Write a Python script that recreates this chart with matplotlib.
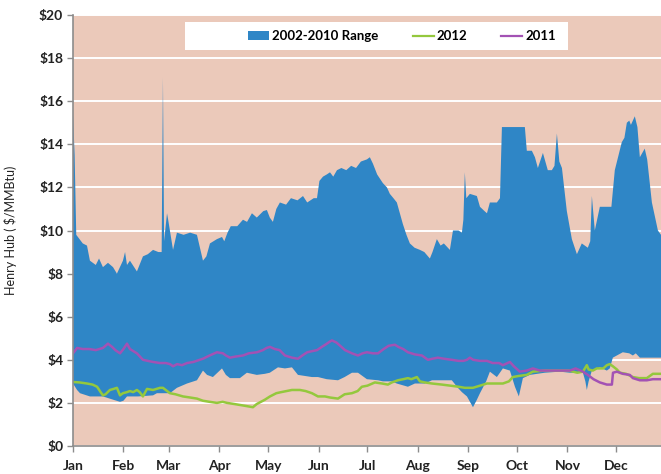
import matplotlib
matplotlib.use("Agg")
import matplotlib.pyplot as plt
from matplotlib.patches import Rectangle, Patch
from matplotlib.lines import Line2D
import numpy as np

plt.rcParams['font.family'] = ['Lato', 'DejaVu Sans']

# ---------------- data (day of year, $/MMBtu) ----------------
month_labels = ["Jan", "Feb", "Mar", "Apr", "May", "Jun", "Jul", "Aug", "Sep", "Oct", "Nov", "Dec"]
month_days = [0, 31, 59, 90, 120, 151, 181, 212, 243, 273, 304, 334]
y_ticks = [0, 2, 4, 6, 8, 10, 12, 14, 16, 18, 20]
y_tick_labels = ["$0", "$2", "$4", "$6", "$8", "$10", "$12", "$14", "$16", "$18", "$20"]

range_upper_days = [0, 1, 2, 3, 6, 8.6, 10.4, 14, 16, 18.4, 21.5, 24.6, 27, 30.7, 32, 33.2, 35, 39.3,
                    43, 46, 49.2, 52.5, 54.5, 55.3, 56.0, 57.8, 58.5, 61.5, 63.9, 68, 72, 76.2, 79.9,
                    82, 84.2, 88.5, 91.6, 93, 95, 97, 101, 104.5, 107, 110, 113, 117, 119.2, 121,
                    122.9, 125, 127.2, 131, 134, 138, 141.4, 144, 146, 148, 150, 151.5, 153.7, 156,
                    158, 160, 162.3, 165, 168, 171, 174, 177, 180.7, 182.5, 184.4, 187, 190.5, 193,
                    194.8, 197, 199.1, 202.8, 205, 207.1, 210, 213.3, 216, 219.4, 221, 223.7, 226,
                    228, 231.7, 233.6, 237, 239.1, 240, 240.9, 241.8, 244, 248.3, 250.2, 253, 254.5,
                    256.3, 260.6, 262.5, 263.7, 277.8, 279, 282.1, 284, 285.8, 288.9, 291.9, 294.4,
                    296, 297.5, 299, 300.6, 303.6, 306.7, 309.8, 312.8, 316.5, 318, 319, 320.8,
                    323.9, 328, 331, 333.1, 337.4, 339, 340.5, 342, 343, 345.4, 347, 348.5, 350,
                    351.5, 353, 355.9, 359.6, 361.5]
range_upper_vals = [15.4, 13.5, 9.8, 9.7, 9.4, 9.3, 8.6, 8.4, 8.7, 8.3, 8.5, 8.3, 8.0, 8.6, 9.0, 8.4,
                    8.6, 8.1, 8.8, 8.9, 9.1, 9.0, 9.0, 17.1, 9.5, 10.8, 10.5, 9.1, 9.9, 9.8, 9.9,
                    9.8, 8.6, 8.8, 9.4, 9.6, 9.7, 9.5, 9.9, 10.2, 10.2, 10.5, 10.4, 10.8, 10.6,
                    10.9, 10.95, 10.6, 10.4, 11.0, 11.3, 11.2, 11.5, 11.4, 11.6, 11.3, 11.4, 11.5,
                    11.5, 12.3, 12.5, 12.6, 12.7, 12.5, 12.8, 12.9, 12.8, 13.0, 12.9, 13.2, 13.3,
                    13.4, 13.1, 12.6, 12.2, 12.0, 11.7, 11.5, 11.3, 10.3, 9.8, 9.4, 9.2, 9.1, 9.0,
                    8.7, 9.0, 9.6, 9.3, 9.4, 9.1, 10.0, 10.0, 9.9, 10.5, 12.7, 11.5, 11.7, 11.6,
                    11.1, 10.9, 10.8, 11.3, 11.3, 11.5, 14.8, 14.8, 13.7, 13.7, 13.4, 12.9, 13.6,
                    12.8, 12.8, 13.0, 14.5, 13.2, 12.9, 10.9, 9.6, 8.9, 9.4, 9.2, 9.5, 11.6, 10.0,
                    11.1, 11.1, 11.1, 12.8, 14.1, 14.3, 15.0, 15.1, 14.9, 15.3, 14.8, 13.4, 13.6,
                    13.8, 13.3, 11.3, 10.0, 9.8]

range_lower_days = [0, 2.5, 4.3, 10.4, 18.4, 24.6, 28.9, 31, 33.2, 40, 49.2, 51.6, 59.6, 63.9, 70.1,
                    76.2, 79.9, 82.4, 86, 91.6, 94, 96.5, 102.6, 106.9, 113, 118, 121, 126, 130.3,
                    134.6, 138.3, 146.9, 150.6, 156, 162.9, 167, 171.5, 175.2, 180.7, 187.5, 190.5,
                    196.1, 199, 205.9, 210.2, 216.3, 220.7, 232.9, 236.6, 239.1, 242.2, 245.9, 248,
                    250.2, 254, 256.3, 260.6, 264.3, 268.6, 271.7, 274.1, 276.6, 280.9, 290, 299.3,
                    305.5, 313.5, 315, 315.9, 317, 319, 323.9, 328.2, 330, 331.9, 338, 342, 344.2,
                    346, 348.5, 361.5]
range_lower_vals = [2.9, 2.6, 2.45, 2.3, 2.3, 2.15, 2.05, 2.1, 2.3, 2.3, 2.35, 2.45, 2.45, 2.7, 2.9,
                    3.05, 3.5, 3.3, 3.2, 3.6, 3.3, 3.15, 3.15, 3.4, 3.3, 3.35, 3.4, 3.65, 3.6, 3.65,
                    3.3, 3.2, 3.2, 3.1, 3.05, 3.2, 3.4, 3.4, 3.1, 3.05, 3.0, 3.0, 2.9, 2.75, 2.9,
                    2.9, 3.05, 3.05, 2.7, 2.5, 2.3, 1.8, 2.1, 2.45, 3.0, 3.45, 3.2, 3.6, 3.5, 2.75,
                    2.3, 3.15, 3.3, 3.4, 3.45, 3.4, 3.4, 3.0, 2.6, 3.0, 3.5, 3.65, 3.5, 3.6, 4.1,
                    4.35, 4.3, 4.2, 4.3, 4.1, 4.1]

y2011_days = [0, 2.5, 6, 10, 14, 18.4, 21.5, 24, 26, 28.9, 31, 33.2, 35, 39.3, 43, 46, 49.2, 53.5,
              57, 59.6, 61.5, 64, 67, 70.1, 74, 79.9, 84, 88.5, 92.2, 94, 96.5, 100, 104.5, 108,
              113.1, 116.8, 119, 121.1, 124, 127, 130.3, 134.6, 138.3, 141, 144, 146.9, 150, 153,
              156.1, 158, 159.2, 162, 165, 167.2, 171.5, 175.2, 178, 180.7, 184.4, 187.5, 191,
              194, 197.9, 200, 203, 205.9, 210.2, 214.5, 218.2, 221, 224.3, 228, 232.9, 237, 240,
              242.2, 244, 246, 250.2, 254.5, 258, 262, 264.3, 268.6, 271, 274.7, 279, 282.7, 287,
              293, 299.3, 305.5, 309, 313.5, 316.5, 320, 323.9, 328.2, 331.3, 332, 334.4, 338,
              342.3, 344.2, 348.5, 352.8, 356.5, 361.5]
y2011_vals = [4.3, 4.55, 4.5, 4.5, 4.45, 4.55, 4.75, 4.6, 4.45, 4.3, 4.5, 4.75, 4.5, 4.3, 4.0, 3.95,
              3.9, 3.85, 3.85, 3.8, 3.7, 3.8, 3.75, 3.85, 3.9, 4.05, 4.2, 4.35, 4.3, 4.2, 4.1,
              4.15, 4.2, 4.3, 4.35, 4.45, 4.55, 4.6, 4.5, 4.45, 4.2, 4.1, 4.05, 4.2, 4.35, 4.4,
              4.45, 4.6, 4.75, 4.85, 4.9, 4.8, 4.6, 4.45, 4.3, 4.2, 4.3, 4.35, 4.3, 4.3, 4.5,
              4.65, 4.7, 4.6, 4.5, 4.35, 4.25, 4.2, 4.0, 4.05, 4.1, 4.05, 4.0, 3.95, 3.95, 4.0,
              4.1, 4.0, 3.95, 3.95, 3.85, 3.85, 3.75, 3.9, 3.7, 3.45, 3.5, 3.6, 3.5, 3.5, 3.5,
              3.5, 3.6, 3.45, 3.3, 3.1, 2.95, 2.85, 2.85, 3.4, 3.45, 3.35, 3.3, 3.15, 3.05, 3.05,
              3.1, 3.1]

y2012_days = [0, 4, 8.6, 12, 14.8, 17, 18.4, 20, 22.7, 25, 27, 28.9, 30.7, 33.2, 35, 37, 39.3, 41,
              43, 45.5, 49.2, 53.5, 55.3, 57, 59.6, 63, 67.6, 72, 76.2, 79.9, 84, 88.5, 92, 94.7,
              99, 103, 106.9, 110.6, 113, 116.8, 118, 121.1, 125, 128, 134.6, 139.5, 143, 146.9,
              150.6, 154.9, 158, 162.9, 167, 171.5, 175, 177.6, 181, 185.6, 190, 193.6, 196,
              199.8, 203, 205.9, 208, 211.4, 213.3, 216.3, 220.7, 226.8, 232, 237, 240.9, 245.9,
              250.2, 254.5, 258.1, 264.3, 268, 270.4, 274, 279, 282.7, 290, 299.3, 305, 310,
              313.5, 315.9, 317, 319.6, 322, 326, 328.2, 330, 331.9, 334.4, 336.2, 340, 344.2,
              348, 352.8, 356.5, 361.5]
y2012_vals = [2.97, 2.95, 2.9, 2.85, 2.75, 2.5, 2.35, 2.4, 2.6, 2.65, 2.7, 2.35, 2.45, 2.5, 2.55,
              2.5, 2.6, 2.5, 2.3, 2.65, 2.6, 2.7, 2.7, 2.6, 2.45, 2.4, 2.3, 2.25, 2.2, 2.1, 2.05,
              2.0, 2.05, 2.0, 1.95, 1.9, 1.85, 1.8, 1.95, 2.1, 2.15, 2.3, 2.45, 2.5, 2.6, 2.6,
              2.55, 2.45, 2.3, 2.3, 2.25, 2.2, 2.4, 2.45, 2.55, 2.75, 2.8, 2.95, 2.9, 2.85, 2.95,
              3.05, 3.1, 3.15, 3.1, 3.2, 3.0, 2.95, 2.9, 2.85, 2.8, 2.75, 2.7, 2.7, 2.8, 2.9, 2.9,
              2.9, 3.0, 3.2, 3.25, 3.3, 3.45, 3.5, 3.5, 3.5, 3.4, 3.45, 3.75, 3.55, 3.5, 3.6, 3.6,
              3.75, 3.8, 3.7, 3.55, 3.4, 3.35, 3.2, 3.15, 3.15, 3.35, 3.35]

# ---------------- style ----------------
bg_color = "#EBC9BA"
blue = "#2F86C6"
green = "#94C83D"
purple = "#A352B4"
spine_gray = "#8C8C8C"

fig = plt.figure(figsize=(6.61, 4.74), dpi=100)
fig.patch.set_facecolor("white")
ax = fig.add_axes([73 / 661, 1 - 446 / 474, 1 - 73 / 661, (446 - 15) / 474])
ax.set_facecolor(bg_color)

# range polygon
poly_x = np.concatenate([range_upper_days, range_lower_days[::-1]])
poly_y = np.concatenate([range_upper_vals, range_lower_vals[::-1]])
ax.fill(poly_x, poly_y, color=blue, lw=0, zorder=2)

ax.plot(y2012_days, y2012_vals, color=green, lw=1.8, zorder=3)
ax.plot(y2011_days, y2011_vals, color=purple, lw=1.8, zorder=4)

ax.set_xlim(0, 361.5)
ax.set_ylim(0, 20)
ax.set_yticks(y_ticks)
ax.set_yticklabels(y_tick_labels, fontsize=10, fontweight="bold", color="#222222")
ax.set_xticks(month_days)
ax.set_xticklabels(month_labels, fontsize=10, fontweight="bold", color="#222222")

ax.grid(axis="y", color="white", lw=1.4, zorder=1)
ax.set_axisbelow(True)
ax.tick_params(axis="both", direction="out", length=4, width=1, color=spine_gray, pad=3)
ax.tick_params(axis="x", pad=6)
for s in ["top", "right"]:
    ax.spines[s].set_visible(False)
for s in ["left", "bottom"]:
    ax.spines[s].set_color(spine_gray)
    ax.spines[s].set_linewidth(1.2)
    ax.spines[s].set_zorder(5)

ax.set_ylabel("Henry Hub ( $/MMBtu)", fontsize=9, color="#222222")
ax.yaxis.set_label_coords(-0.095, 0.5)

# legend box
ax.add_patch(Rectangle((0.1905, 0.9188), 0.6514, 0.065, transform=ax.transAxes,
                       facecolor="white", edgecolor="none", zorder=6))
handles = [Patch(facecolor=blue, edgecolor="none"),
           Line2D([0], [0], color=green, lw=1.6),
           Line2D([0], [0], color=purple, lw=1.6)]
leg = ax.legend(handles, ["2002-2010 Range", "2012", "2011"], loc="center",
                bbox_to_anchor=(0.5595, 0.951), ncol=3, frameon=False,
                prop={"weight": "bold", "size": 9.5}, handlelength=1.6, handleheight=0.6,
                handletextpad=0.2, columnspacing=2.6)
leg.set_zorder(7)

fig.savefig("out.png", dpi=100, facecolor="white")
